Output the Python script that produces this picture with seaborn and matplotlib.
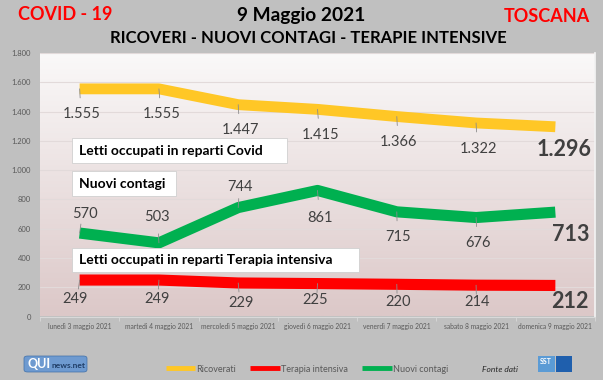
import numpy as np
import pandas as pd
import matplotlib
matplotlib.use("Agg")
import matplotlib.pyplot as plt
import seaborn as sns
from matplotlib.patches import Rectangle, FancyBboxPatch
from matplotlib.ticker import FuncFormatter, FixedLocator

days = ["lunedì 3 maggio 2021", "martedì 4 maggio 2021", "mercoledì 5 maggio 2021",
        "giovedì 6 maggio 2021", "venerdì 7 maggio 2021", "sabato 8 maggio 2021",
        "domenica 9 maggio 2021"]
ricoverati = [1555, 1555, 1447, 1415, 1366, 1322, 1296]
contagi = [570, 503, 744, 861, 715, 676, 713]
terapia = [249, 249, 229, 225, 220, 214, 212]

YELLOW = "#FFC726"
GREEN = "#00B050"
RED = "#FF0000"
BG = "#C0C0C0"
W, H = 603, 380

sns.set_theme(style="white")
plt.rcParams["font.family"] = ["Lato", "DejaVu Sans"]

fig = plt.figure(figsize=(W / 100, H / 100), dpi=100, facecolor=BG)


def px(x, y):
    # pixel (from top-left) -> figure fraction
    return x / W, 1 - y / H


def fmt_it(v):
    return f"{int(v):,}".replace(",", ".")


l, t = px(40, 53)
r, b = px(595, 316.5)
ax = fig.add_axes([l, b, r - l, t - b])
ax.set_facecolor("none")

# gradient plot area
grad = np.linspace(0, 1, 256).reshape(-1, 1)
cmap = matplotlib.colors.LinearSegmentedColormap.from_list("bg", ["#DCC8C8", "#FAF9F9"])
ax.imshow(grad, cmap=cmap, aspect="auto", extent=[0, 1, 0, 1], origin="lower",
          transform=ax.transAxes, zorder=0)

df = pd.DataFrame({"giorno": days, "Ricoverati": ricoverati,
                   "Terapia intensiva": terapia, "Nuovi contagi": contagi})

sns.lineplot(data=df, x="giorno", y="Ricoverati", sort=False, color=YELLOW, lw=7.8,
             solid_capstyle="butt", ax=ax, zorder=3)
sns.lineplot(data=df, x="giorno", y="Nuovi contagi", sort=False, color=GREEN, lw=8,
             solid_capstyle="butt", ax=ax, zorder=3)
sns.lineplot(data=df, x="giorno", y="Terapia intensiva", sort=False, color=RED, lw=8,
             solid_capstyle="butt", ax=ax, zorder=3)

ax.set_xlim(-0.5, 6.5)
ax.set_ylim(0, 1800)
ax.set_yticks(range(0, 1801, 200))
ax.yaxis.set_major_formatter(FuncFormatter(lambda v, p: fmt_it(v)))
ax.grid(axis="y", color="#E2DADA", lw=0.8, zorder=1)
ax.set_axisbelow(True)
ax.set_xlabel("")
ax.set_ylabel("")
ax.tick_params(axis="y", length=0, pad=6.5, labelsize=5.5, labelcolor="#595959")
ax.tick_params(axis="x", which="major", length=0, pad=4.5, labelsize=4.8, labelcolor="#595959")
ax.xaxis.set_minor_locator(FixedLocator(np.arange(-0.5, 7, 1)))
ax.tick_params(axis="x", which="minor", length=3, width=0.6, color="#D9D9D9", bottom=True)
for s in ["top", "left"]:
    ax.spines[s].set_visible(False)
ax.spines["right"].set_color("#F2F2F2")
ax.spines["bottom"].set_color("#D9D9D9")
ax.spines["bottom"].set_linewidth(0.8)

# data labels (offsets in pixels)
k = 0.72
yel_off = [(2, -25), (3, -25), (2, -25), (3, -26), (2, -25), (2, -26), (9, -23)]
grn_off = [(5, 19), (-2, 26), (2, 21), (3, -28), (1, -25), (2, -25), (15, -22)]
red_off = [(-5, -19), (-2, -19), (3, -20), (-2, -16), (1, -18), (1, -17), (15, -16)]
for vals, offs in [(ricoverati, yel_off), (contagi, grn_off), (terapia, red_off)]:
    for i, (v, (dx, dy)) in enumerate(zip(vals, offs)):
        last = i == len(vals) - 1
        ax.annotate(fmt_it(v), xy=(i, v), xytext=(dx * k, dy * k), textcoords="offset points",
                    ha="center", va="center", color="#404040",
                    fontsize=15.5 if last else 10.5,
                    fontweight="bold" if last else "normal", zorder=5)
        if not last:
            sgn = 1 if dy > 0 else -1
            ax.annotate("", xy=(i, v), xytext=(dx * 0.25 * k, sgn * 9 * k),
                        textcoords="offset points",
                        arrowprops=dict(arrowstyle="-", color="#8C8C8C", lw=0.6,
                                        shrinkA=0, shrinkB=0), zorder=4)

# white label boxes
boxes = [(72, 138, 287, 163, "Letti occupati in reparti Covid"),
         (72, 171, 176, 196, "Nuovi contagi"),
         (72, 248, 359, 272, "Letti occupati in reparti Terapia intensiva")]
for x0, y0, x1, y1, txt in boxes:
    fx0, fy1 = px(x0, y1)
    fx1, fy0 = px(x1, y0)
    fig.add_artist(Rectangle((fx0, fy1), fx1 - fx0, fy0 - fy1, transform=fig.transFigure,
                             facecolor="white", edgecolor="#D0D0D0", lw=0.6, zorder=6))
    tx, ty = px(x0 + 7, (y0 + y1) / 2)
    fig.text(tx, ty, txt, ha="left", va="center", fontsize=10, fontweight="bold",
             color="black", zorder=7)

# titles
fig.text(*px(65, 15), "COVID - 19", ha="center", va="center", fontsize=13,
         fontweight="bold", color=RED)
fig.text(*px(301, 15), "9 Maggio 2021", ha="center", va="center", fontsize=13.8,
         fontweight="bold", color="black")
fig.text(*px(547, 16), "TOSCANA", ha="center", va="center", fontsize=13,
         fontweight="bold", color=RED)
fig.text(*px(308, 38), "RICOVERI - NUOVI CONTAGI - TERAPIE INTENSIVE", ha="center",
         va="center", fontsize=12, fontweight="bold", color="black")

# legend
handles = [plt.Line2D([], [], color=c, lw=3.5, solid_capstyle="butt")
           for c in [YELLOW, RED, GREEN]]
fig.legend(handles, ["Ricoverati", "Terapia intensiva", "Nuovi contagi"], loc="center",
           bbox_to_anchor=px(307, 369), ncol=3, frameon=False, handlelength=3.3,
           handletextpad=0.1, columnspacing=1.6, fontsize=6.5, labelcolor="#595959")

fig.text(*px(500, 369), "Fonte dati", ha="center", va="center", fontsize=6,
         style="italic", color="#262626")

# QUInews badge
qx0, qy1 = px(24, 372)
qx1, qy0 = px(87, 356)
fig.add_artist(FancyBboxPatch((qx0, qy1), qx1 - qx0, qy0 - qy1, transform=fig.transFigure,
                              boxstyle="round,pad=0,rounding_size=0.006",
                              facecolor="#6E9AD0", edgecolor="#3F6FA8", lw=0.5))
fig.text(*px(39, 364), "QUI", ha="center", va="center", fontsize=9, fontweight="bold",
         color="white")
fig.text(*px(68, 365), "news.net", ha="center", va="center", fontsize=6,
         fontweight="bold", color="#1F3D66")

# SST badge
sx0, sy1 = px(538, 372)
sx1, sy0 = px(555, 356)
fig.add_artist(Rectangle((sx0, sy1), sx1 - sx0, sy0 - sy1, transform=fig.transFigure,
                         facecolor="#5B9BD5", edgecolor="none"))
sx0, sy1 = px(556, 372)
sx1, sy0 = px(572, 356)
fig.add_artist(Rectangle((sx0, sy1), sx1 - sx0, sy0 - sy1, transform=fig.transFigure,
                         facecolor="#1F5FAD", edgecolor="none"))
fig.text(*px(546, 361), "SST", ha="center", va="center", fontsize=5, fontweight="bold",
         color="white")

fig.savefig("out.png", dpi=100, facecolor=BG)
